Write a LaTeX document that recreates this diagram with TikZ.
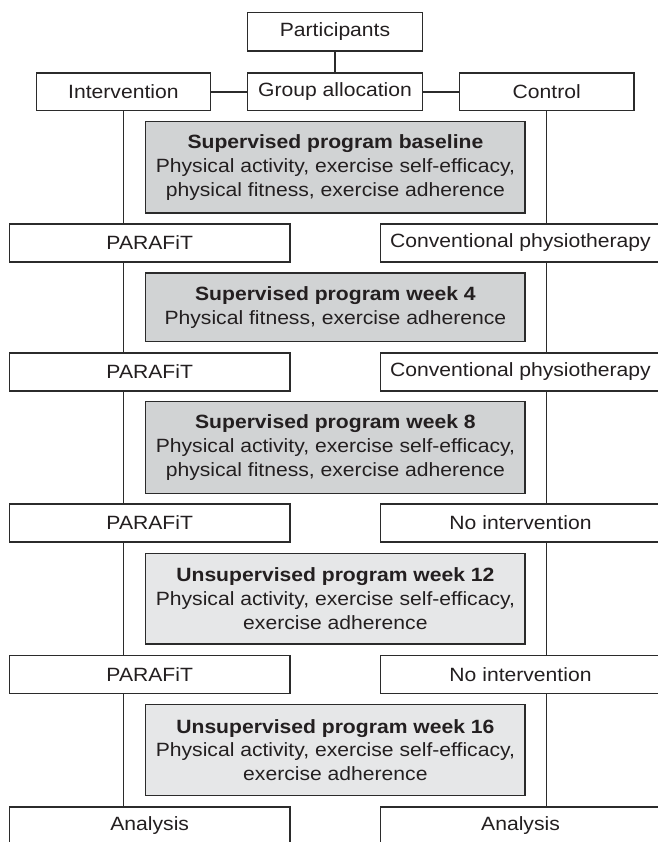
\documentclass[tikz,border=0pt]{standalone}
\usepackage{fontspec}
\setmainfont[FakeStretch=1.1]{Liberation Sans}
\definecolor{linec}{HTML}{2B2B2B}
\definecolor{textc}{HTML}{231F20}
\definecolor{gdark}{HTML}{D1D3D4}
\definecolor{glight}{HTML}{E6E7E8}
\newcommand\diagfont{\fontsize{19.2}{23.8}\selectfont}
\tikzset{
  box/.style={draw=linec, line width=1.2pt, fill=white, inner sep=0pt, align=center,
              font=\diagfont, text=textc},
  topbox/.style={box, minimum width=174.6pt, minimum height=37.8pt},
  sidebox/.style={box, minimum width=280.7pt, minimum height=38pt},
  gbox/.style={box, fill=gdark, minimum width=379.3pt},
  lgbox/.style={box, fill=glight, minimum width=379.3pt},
  conn/.style={draw=linec, line width=1.2pt}
}
\begin{document}
\begin{tikzpicture}[x=1pt,y=-1pt]
\useasboundingbox[fill=white] (0,0) rectangle (657,842);
% top
\node[topbox, minimum height=38.7pt] (part) at (335,31.6) {Participants};
\node[topbox] (grp)  at (335,92) {Group allocation};
\node[topbox] (intv) at (123.4,92) {Intervention};
\node[topbox] (ctrl) at (546.7,92) {Control};
% measurement boxes
\node[gbox, minimum height=91.3pt] (g1) at (335.4,167.4)
  {\textbf{Supervised program baseline}\\Physical activity, exercise self-efficacy,\\physical fitness, exercise adherence};
\node[gbox, minimum height=68.7pt] (g2) at (335.4,307.4)
  {\textbf{Supervised program week 4}\\Physical fitness, exercise adherence};
\node[gbox, minimum height=91.6pt] (g3) at (335.4,447.5)
  {\textbf{Supervised program week 8}\\Physical activity, exercise self-efficacy,\\physical fitness, exercise adherence};
\node[lgbox, minimum height=90.7pt] (g4) at (335.4,598.7)
  {\textbf{Unsupervised program week 12}\\Physical activity, exercise self-efficacy,\\exercise adherence};
\node[lgbox, minimum height=91.4pt] (g5) at (335.4,750)
  {\textbf{Unsupervised program week 16}\\Physical activity, exercise self-efficacy,\\exercise adherence};
% side boxes
\node[sidebox] (l1) at (149.7,243) {PARAFiT};
\node[sidebox] (r1) at (520.5,243) {Conventional physiotherapy};
\node[sidebox] (l2) at (149.7,371.9) {PARAFiT};
\node[sidebox] (r2) at (520.5,371.9) {Conventional physiotherapy};
\node[sidebox] (l3) at (149.7,522.9) {PARAFiT};
\node[sidebox] (r3) at (520.5,522.9) {No intervention};
\node[sidebox] (l4) at (149.7,674.3) {PARAFiT};
\node[sidebox] (r4) at (520.5,674.3) {No intervention};
\node[sidebox] (l5) at (149.7,826) {Analysis};
\node[sidebox] (r5) at (520.5,826) {Analysis};
% connectors
\draw[conn] (part.south) -- (grp.north);
\draw[conn] (grp.west) -- (intv.east);
\draw[conn] (grp.east) -- (ctrl.west);
\draw[conn] (intv.south) -- (intv.south |- l1.north);
\draw[conn] (intv.south |- l1.south) -- (intv.south |- l2.north);
\draw[conn] (intv.south |- l2.south) -- (intv.south |- l3.north);
\draw[conn] (intv.south |- l3.south) -- (intv.south |- l4.north);
\draw[conn] (intv.south |- l4.south) -- (intv.south |- l5.north);
\draw[conn] (ctrl.south) -- (ctrl.south |- r1.north);
\draw[conn] (ctrl.south |- r1.south) -- (ctrl.south |- r2.north);
\draw[conn] (ctrl.south |- r2.south) -- (ctrl.south |- r3.north);
\draw[conn] (ctrl.south |- r3.south) -- (ctrl.south |- r4.north);
\draw[conn] (ctrl.south |- r4.south) -- (ctrl.south |- r5.north);
\end{tikzpicture}
\end{document}
